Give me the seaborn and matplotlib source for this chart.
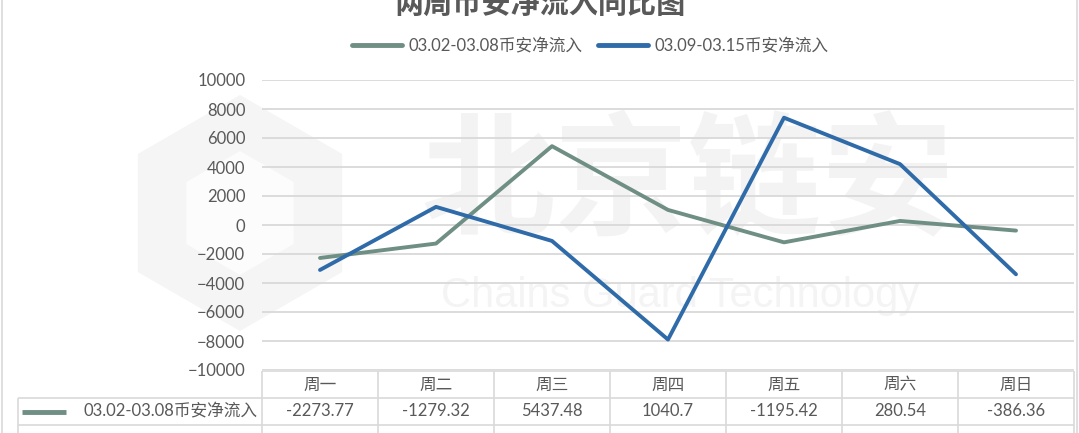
import pandas as pd
import matplotlib.pyplot as plt
import seaborn as sns
from matplotlib.patches import RegularPolygon

days = ['周一', '周二', '周三', '周四', '周五', '周六', '周日']
week1 = [-2273.77, -1279.32, 5437.48, 1040.7, -1195.42, 280.54, -386.36]
week2 = [-3100, 1250, -1100, -7900, 7400, 4200, -3400]
series = ['03.02-03.08币安净流入', '03.09-03.15币安净流入']
colors = ['#6f8f84', '#2f6ba8']

df = pd.DataFrame({
    'day': days * 2,
    'value': week1 + week2,
    'series': [series[0]] * len(days) + [series[1]] * len(days),
})

sns.set_theme(style='white')
plt.rcParams['font.family'] = ['Lato', 'Noto Sans CJK SC', 'DejaVu Sans']

W, H = 1079, 433
txt = '#595959'
line_c = '#d9d9d9'
fs = 12
fig = plt.figure(figsize=(W / 100, H / 100), dpi=100)

# background layer in pixel coords: border, watermark, data table
bg = fig.add_axes([0, 0, 1, 1])
bg.set_xlim(0, W)
bg.set_ylim(H, 0)
bg.axis('off')
bg.vlines([2, 1077], 0, H, color=line_c, lw=1.2)

bg.add_patch(RegularPolygon((240, 213), 6, radius=118, orientation=0, color='#f5f5f5', lw=0))
bg.add_patch(RegularPolygon((240, 213), 6, radius=62, orientation=0, color='#fcfcfc', lw=0))
bg.text(688, 185, '北京链安', fontsize=96, fontweight='bold', color='#f3f3f3',
        ha='center', va='center', family=['Noto Sans CJK SC'])
bg.text(680, 296, 'Chains Guard Technology', fontsize=30, color='#f4f4f4',
        ha='center', va='center', family=['Liberation Sans'])

# title (partly cut off at the top in the reference)
bg.text(540, 4, '两周币安净流入同比图', fontsize=21, fontweight='bold', color=txt,
        ha='center', va='center', family=['Noto Sans CJK SC'])

# main plot
x0, x1 = 262, 1074
ax = fig.add_axes([x0 / W, (H - 370) / H, (x1 - x0) / W, 290 / H])
ax.patch.set_alpha(0)
sns.lineplot(data=df, x='day', y='value', hue='series', palette=colors,
             lw=2.8, sort=False, ax=ax)
ax.set_xlim(-0.5, len(days) - 0.5)
ax.set_ylim(-10000, 10000)
ax.set_yticks(range(-10000, 10001, 2000))
ax.yaxis.grid(True, color=line_c, lw=1.3)
ax.xaxis.grid(False)
for s in ax.spines.values():
    s.set_visible(False)
ax.tick_params(axis='x', labelbottom=False, length=0)
ax.tick_params(axis='y', length=0, pad=12, labelsize=fs, labelcolor=txt)
ax.set_xlabel('')
ax.set_ylabel('')

handles, _ = ax.get_legend_handles_labels()
leg = ax.legend(handles, series, ncol=2, loc='center',
                bbox_to_anchor=(590 / W, (H - 46) / H), bbox_transform=fig.transFigure,
                frameon=False, fontsize=fs, handlelength=3.0, columnspacing=0.9,
                handletextpad=0.4, labelcolor=txt)
for h in leg.get_lines():
    h.set_linewidth(3.5)

# data table under the plot (second row is cut off by the picture edge)
cw = (x1 - x0) / len(days)
rows = [371, 398, 425, 452]
bg.hlines(rows[0], x0, x1, color=line_c, lw=1.2)
bg.hlines(rows[1:3], 18, x1, color=line_c, lw=1.2)
bg.vlines([x0 + i * cw for i in range(len(days) + 1)], rows[0], rows[-1], color=line_c, lw=1.2)
bg.vlines(18, rows[1], rows[-1], color=line_c, lw=1.2)

for i, d in enumerate(days):
    bg.text(x0 + (i + 0.5) * cw, (rows[0] + rows[1]) / 2, d, fontsize=fs, color=txt,
            ha='center', va='center')

yc = (rows[1] + rows[2]) / 2
bg.plot([22, 66], [yc, yc], color=colors[0], lw=3.5, solid_capstyle='butt')
bg.text(258, yc, series[0], fontsize=fs, color=txt, ha='right', va='center')
for i, v in enumerate(week1):
    bg.text(x0 + (i + 0.5) * cw, yc, f'{v:g}', fontsize=fs, color=txt,
            ha='center', va='center')

plt.savefig('out.png', dpi=100)
